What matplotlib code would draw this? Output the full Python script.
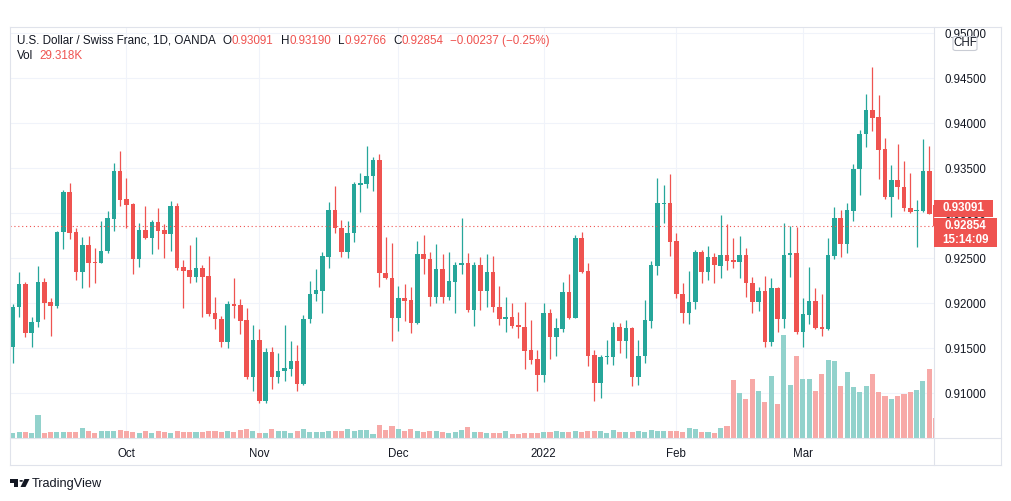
import numpy as np
import pandas as pd
import matplotlib
matplotlib.use("Agg")
import matplotlib.pyplot as plt
from matplotlib.patches import Rectangle, FancyBboxPatch, Polygon, Circle
from matplotlib.lines import Line2D

# USD/CHF daily bars (OANDA)
opens = [
    0.91511, 0.91956, 0.92215, 0.91667, 0.91789, 0.92237, 0.92015, 0.91974, 0.92793, 0.93241,
    0.92793, 0.92352, 0.92644, 0.92459, 0.92452, 0.92578, 0.92941, 0.93470, 0.93156, 0.93107,
    0.92489, 0.92815, 0.92730, 0.92904, 0.92815, 0.92774, 0.93081, 0.92400, 0.92370, 0.92296,
    0.92393, 0.92304, 0.91893, 0.91822, 0.91574, 0.91993, 0.91985, 0.91815, 0.91185, 0.91593,
    0.90919, 0.91463, 0.91185, 0.91244, 0.91274, 0.91363, 0.91104, 0.91822, 0.92104, 0.92141,
    0.92519, 0.93037, 0.92833, 0.92567, 0.92778, 0.93319, 0.93326, 0.93415, 0.93593, 0.92333,
    0.92278, 0.91833, 0.92056, 0.92033, 0.91778, 0.92548, 0.92489, 0.92067, 0.92378, 0.92067,
    0.92241, 0.92422, 0.92444, 0.91926, 0.92426, 0.92141, 0.92348, 0.91963, 0.91830, 0.91852,
    0.91759, 0.91740, 0.91481, 0.91381, 0.91204, 0.91896, 0.91622, 0.91715, 0.92130, 0.91841,
    0.92722, 0.92359, 0.91426, 0.91119, 0.91400, 0.91407, 0.91741, 0.91585, 0.91722, 0.91185,
    0.91415, 0.91807, 0.92419, 0.93104, 0.93111, 0.92693, 0.92104, 0.91896, 0.92019, 0.92574,
    0.92352, 0.92511, 0.92419, 0.92537, 0.92481, 0.92463, 0.92537, 0.92222, 0.92019, 0.92137,
    0.91574, 0.92167, 0.91826, 0.92533, 0.92563, 0.91685, 0.91870, 0.92026, 0.91740, 0.91711,
    0.92526, 0.92944, 0.92656, 0.93030, 0.93489, 0.93881, 0.94148, 0.94074, 0.93711, 0.93185,
    0.93370, 0.93289, 0.93056, 0.93022, 0.93030, 0.93470, 0.93091,
]
highs = [
    0.91993, 0.92344, 0.92237, 0.91852, 0.92415, 0.92285, 0.92056, 0.92800, 0.93259, 0.93341,
    0.92833, 0.92741, 0.92748, 0.92619, 0.92919, 0.93026, 0.93563, 0.93693, 0.93389, 0.93115,
    0.92889, 0.93081, 0.92926, 0.93059, 0.92881, 0.93141, 0.93111, 0.92481, 0.92648, 0.92737,
    0.92426, 0.92526, 0.92074, 0.91859, 0.92026, 0.92278, 0.92044, 0.91952, 0.91759, 0.91711,
    0.91500, 0.91519, 0.91452, 0.91759, 0.91585, 0.91537, 0.91870, 0.92248, 0.92385, 0.92574,
    0.93130, 0.93304, 0.92926, 0.92919, 0.93352, 0.93452, 0.93752, 0.93622, 0.93656, 0.92741,
    0.92667, 0.92193, 0.92215, 0.92185, 0.92693, 0.92759, 0.92574, 0.92656, 0.92548, 0.92574,
    0.92463, 0.92952, 0.92563, 0.92463, 0.92511, 0.92544, 0.92526, 0.92193, 0.92067, 0.92000,
    0.91907, 0.92019, 0.91815, 0.91481, 0.92000, 0.91933, 0.91833, 0.92241, 0.92322, 0.92759,
    0.92793, 0.92444, 0.91481, 0.91426, 0.91593, 0.91796, 0.91778, 0.91815, 0.91741, 0.91593,
    0.92037, 0.92474, 0.93393, 0.93311, 0.93437, 0.92785, 0.92222, 0.92363, 0.92593, 0.92593,
    0.92637, 0.92556, 0.92981, 0.92881, 0.92722, 0.92748, 0.92611, 0.92289, 0.92185, 0.92304,
    0.92278, 0.92185, 0.92889, 0.92859, 0.92852, 0.92056, 0.92407, 0.92167, 0.92100, 0.92722,
    0.93074, 0.93037, 0.93111, 0.93548, 0.93926, 0.94326, 0.94622, 0.94315, 0.93833, 0.93537,
    0.93767, 0.93581, 0.93452, 0.93148, 0.93826, 0.93748, 0.93190,
]
lows = [
    0.91333, 0.91844, 0.91622, 0.91511, 0.91733, 0.91822, 0.91641, 0.91944, 0.92607, 0.92719,
    0.92259, 0.92167, 0.92185, 0.92230, 0.92445, 0.92563, 0.92807, 0.93081, 0.92833, 0.92322,
    0.92407, 0.92719, 0.92544, 0.92600, 0.92507, 0.92585, 0.92370, 0.91952, 0.92230, 0.92241,
    0.91852, 0.91863, 0.91715, 0.91519, 0.91507, 0.91833, 0.91656, 0.91163, 0.91030, 0.90889,
    0.90889, 0.91052, 0.91119, 0.91141, 0.91193, 0.91030, 0.91093, 0.91778, 0.92030, 0.91889,
    0.92389, 0.92778, 0.92519, 0.92500, 0.92685, 0.93019, 0.93278, 0.93252, 0.92178, 0.92267,
    0.91585, 0.91696, 0.91804, 0.91667, 0.91770, 0.92322, 0.91970, 0.92000, 0.92000, 0.92037,
    0.91889, 0.92326, 0.91907, 0.91748, 0.91926, 0.91963, 0.91907, 0.91759, 0.91685, 0.91722,
    0.91611, 0.91270, 0.91326, 0.91030, 0.91130, 0.91378, 0.91419, 0.91685, 0.91830, 0.91835,
    0.92333, 0.91304, 0.90919, 0.90948, 0.91326, 0.91315, 0.91452, 0.91389, 0.91081, 0.91093,
    0.91333, 0.91730, 0.92315, 0.92889, 0.92526, 0.92056, 0.91778, 0.91767, 0.91933, 0.92222,
    0.92259, 0.92230, 0.92278, 0.92370, 0.92389, 0.92278, 0.92074, 0.91896, 0.91919, 0.91511,
    0.91526, 0.91685, 0.91722, 0.92296, 0.91660, 0.91511, 0.91770, 0.91711, 0.91637, 0.91704,
    0.92496, 0.92511, 0.92563, 0.92919, 0.93204, 0.93733, 0.93919, 0.93378, 0.93156, 0.92956,
    0.93156, 0.93026, 0.93007, 0.92622, 0.93019, 0.92989, 0.92766,
]
closes = [
    0.91963, 0.92215, 0.91667, 0.91789, 0.92237, 0.92007, 0.91974, 0.92793, 0.93241, 0.92785,
    0.92352, 0.92644, 0.92452, 0.92448, 0.92578, 0.92948, 0.93470, 0.93148, 0.93096, 0.92489,
    0.92815, 0.92730, 0.92904, 0.92807, 0.92774, 0.93081, 0.92396, 0.92363, 0.92296, 0.92393,
    0.92296, 0.91881, 0.91822, 0.91574, 0.91993, 0.91974, 0.91807, 0.91178, 0.91593, 0.90919,
    0.91463, 0.91185, 0.91244, 0.91281, 0.91363, 0.91104, 0.91822, 0.92104, 0.92148, 0.92526,
    0.93037, 0.92833, 0.92567, 0.92785, 0.93326, 0.93333, 0.93415, 0.93593, 0.92333, 0.92278,
    0.91833, 0.92056, 0.92030, 0.91778, 0.92548, 0.92489, 0.92067, 0.92378, 0.92067, 0.92248,
    0.92426, 0.92448, 0.91926, 0.92426, 0.92141, 0.92348, 0.91956, 0.91830, 0.91852, 0.91748,
    0.91733, 0.91474, 0.91370, 0.91204, 0.91896, 0.91622, 0.91730, 0.92130, 0.91841, 0.92722,
    0.92352, 0.91419, 0.91119, 0.91407, 0.91415, 0.91741, 0.91585, 0.91722, 0.91185, 0.91415,
    0.91815, 0.92426, 0.93111, 0.93119, 0.92685, 0.92104, 0.91896, 0.92019, 0.92574, 0.92352,
    0.92511, 0.92426, 0.92537, 0.92470, 0.92463, 0.92537, 0.92222, 0.92019, 0.92137, 0.91574,
    0.92167, 0.91826, 0.92537, 0.92563, 0.91685, 0.91881, 0.92026, 0.91722, 0.91711, 0.92537,
    0.92944, 0.92656, 0.93037, 0.93489, 0.93881, 0.94148, 0.94063, 0.93704, 0.93185, 0.93370,
    0.93289, 0.93056, 0.93019, 0.93037, 0.93470, 0.92993, 0.92854,
]
volumes_k = [
    8.0, 9.5, 8.5, 7.5, 35.0, 8.0, 9.0, 9.5, 9.5, 9.5,
    9.0, 15.5, 11.0, 8.0, 11.0, 11.0, 11.0, 12.5, 11.0, 9.0,
    7.5, 11.0, 8.0, 11.0, 9.0, 8.0, 11.0, 9.5, 9.5, 9.5,
    9.5, 10.0, 10.0, 9.0, 11.0, 9.0, 11.5, 14.0, 10.5, 8.0,
    8.0, 14.0, 11.0, 11.0, 8.0, 11.0, 14.0, 9.5, 9.5, 9.5,
    11.0, 11.0, 11.0, 14.0, 11.0, 12.5, 12.5, 6.0, 20.0, 12.5,
    18.5, 14.0, 11.0, 14.0, 10.0, 9.5, 11.0, 10.0, 9.5, 8.0,
    8.5, 12.5, 17.0, 9.5, 9.5, 8.0, 8.0, 8.0, 10.5, 6.0,
    6.5, 8.0, 8.0, 8.0, 9.0, 9.5, 11.0, 9.5, 9.5, 11.0,
    9.5, 11.0, 11.0, 11.0, 7.5, 12.5, 9.5, 9.5, 9.5, 11.0,
    9.5, 12.5, 11.0, 11.0, 11.0, 11.0, 9.5, 15.5, 14.0, 9.5,
    9.5, 8.0, 15.5, 18.5, 87.0, 67.5, 58.5, 88.5, 70.5, 54.0,
    93.0, 51.0, 154.5, 79.5, 123.0, 88.5, 88.5, 70.5, 96.0, 117.0,
    115.5, 78.0, 99.0, 76.5, 69.0, 78.0, 96.0, 69.0, 63.0, 58.5,
    63.0, 66.0, 69.0, 72.0, 85.5, 103.5, 29.318,
]
first_day = "2021-09-07"
price_ticks = [0.910, 0.915, 0.920, 0.925, 0.930, 0.935, 0.940, 0.945, 0.950]
title = "U.S. Dollar / Swiss Franc, 1D, OANDA"
change_txt = "\u22120.00237 (\u22120.25%)"
last_vol_txt = "29.318K"
countdown = "15:14:09"
currency = "CHF"

UP, DOWN = "#26a69a", "#ef5350"
UP_VOL, DOWN_VOL = "#92d2cc", "#f7a9a7"
TXT = "#131722"
GRID = "#f0f3fa"
BORDER = "#e0e3eb"
plt.rcParams["font.family"] = ["Liberation Sans", "DejaVu Sans"]

W, H = 1012, 501
def fx(px): return px / W
def fy(py): return 1 - py / H

o, h, l, c = (np.asarray(a) for a in (opens, highs, lows, closes))
v = np.asarray(volumes_k)
n = len(c)
x = np.arange(n)
dates = pd.bdate_range(first_day, periods=n)
up = c >= o

fig = plt.figure(figsize=(W / 100, H / 100), dpi=100)
fig.patch.set_facecolor("white")
PL, PR, PT, PB = 10, 934, 27, 438
ax = fig.add_axes([fx(PL), fy(PB), (PR - PL) / W, (PB - PT) / H])
ax.set_xlim(-0.43, 145.75)
ymin, ymax = 0.90503, 0.9507
ax.set_ylim(ymin, ymax)
ax.grid(True, color=GRID, linewidth=0.8)
ax.set_axisbelow(True)

# candles
col = np.where(up, UP, DOWN)
ax.vlines(x, l, h, colors=col, linewidth=0.9, zorder=2)
body = np.maximum(np.abs(c - o), 0.00009)
ax.bar(x, body, bottom=np.minimum(o, c), width=0.72, color=col, linewidth=0, zorder=3)
ax.axhline(c[-1], color=DOWN, linewidth=0.8, linestyle=(0, (1, 2.5)), zorder=4)

# volume overlay
vax = ax.twinx()
vax.bar(x, v, width=0.8, color=np.where(up, UP_VOL, DOWN_VOL), linewidth=0)
vax.set_ylim(0, 616.5)
vax.yaxis.set_visible(False)

month_pos = [i for i in range(1, n) if dates[i].month != dates[i - 1].month]
month_lab = ["2022" if dates[i].month == 1 else dates[i].strftime("%b") for i in month_pos]
ax.set_xticks(month_pos, month_lab)
ax.yaxis.tick_right()
ax.set_yticks(price_ticks, [f"{p:.5f}" for p in price_ticks])
ax.tick_params(axis="x", length=0, pad=7, labelsize=8.3, labelcolor=TXT)
ax.tick_params(axis="y", length=0, pad=7.9, labelsize=8.3, labelcolor=TXT)
for a in (ax, vax):
    for s in a.spines.values():
        s.set_visible(False)

# pane borders
for (x0, y0), (x1, y1) in [((PL, PT), (1001.5, PT)), ((PL, 464.5), (1001.5, 464.5)),
                           ((PL, PT), (PL, 464.5)), ((1001.5, PT), (1001.5, 464.5)),
                           ((PR, PT), (PR, 464.5)), ((PL, PB), (1001.5, PB))]:
    fig.add_artist(Line2D([fx(x0), fx(x1)], [fy(y0), fy(y1)], color=BORDER, lw=0.8, zorder=8))

# price labels on the scale
def py(p):
    return PB - (p - ymin) / (ymax - ymin) * (PB - PT)

y_last = py(c[-1])
b2_top, b2_bot = y_last - 8.4, y_last + 21.0
b1_bot, b1_top = b2_top - 1, b2_top - 18.3
for x0, x1, y0, y1 in [(PR, 993, b1_top, b1_bot), (PR, 997, b2_top, b2_bot)]:
    fig.add_artist(Rectangle((fx(x0), fy(y1)), (x1 - x0) / W, (y1 - y0) / H,
                             transform=fig.transFigure, facecolor=DOWN, edgecolor="none", zorder=10))
lab = dict(color="white", fontsize=8.3, fontweight="bold", ha="center", va="center", zorder=11)
fig.text(fx(963.5), fy((b1_top + b1_bot) / 2), f"{o[-1]:.5f}", **lab)
fig.text(fx(965.5), fy(y_last), f"{c[-1]:.5f}", **lab)
fig.text(fx(965.5), fy(y_last + 14), countdown, **lab)

# currency badge
fig.add_artist(FancyBboxPatch((fx(953), fy(50.5)), 24 / W, 14 / H,
                              boxstyle="round,pad=0,rounding_size=0.003",
                              transform=fig.transFigure, facecolor="white",
                              edgecolor="#c9ccd4", lw=0.8, zorder=10))
fig.text(fx(965), fy(43.5), currency, color=TXT, fontsize=8.3, ha="center", va="center", zorder=11)

# header legend
renderer = fig.canvas.get_renderer()
def seq(parts, x0, y0, size=8.4):
    cur = x0
    for txt, color, gap in parts:
        t = fig.text(fx(cur), fy(y0), txt, color=color, fontsize=size, ha="left", va="center")
        cur += t.get_window_extent(renderer=renderer).width + gap

seq([(title, TXT, 7),
     ("O", TXT, 0), (f"{o[-1]:.5f}", DOWN, 7),
     ("H", TXT, 0), (f"{h[-1]:.5f}", DOWN, 7),
     ("L", TXT, 0), (f"{l[-1]:.5f}", DOWN, 7),
     ("C", TXT, 0), (f"{c[-1]:.5f}", DOWN, 6),
     (change_txt, DOWN, 0)], 17, 41)
seq([("Vol", TXT, 6), (last_vol_txt, DOWN, 0)], 17, 56)

# TradingView mark
logo = "#131722"
fig.add_artist(Polygon([(fx(10), fy(479)), (fx(18.5), fy(479)), (fx(18.5), fy(487)),
                        (fx(14.5), fy(487)), (fx(14.5), fy(482.5)), (fx(10), fy(482.5))],
                       closed=True, transform=fig.transFigure, facecolor=logo, edgecolor="none"))
fig.add_artist(Circle((fx(21.2), fy(480.9)), 1.8 / W, transform=fig.transFigure,
                      facecolor=logo, edgecolor="none"))
fig.add_artist(Polygon([(fx(24.5), fy(479)), (fx(29.5), fy(479)), (fx(25.5), fy(487)),
                        (fx(20.5), fy(487))],
                       closed=True, transform=fig.transFigure, facecolor=logo, edgecolor="none"))
fig.text(fx(32), fy(483.5), "TradingView", color=TXT, fontsize=9.2, ha="left", va="center")

fig.savefig("out.png", dpi=100, facecolor="white")
